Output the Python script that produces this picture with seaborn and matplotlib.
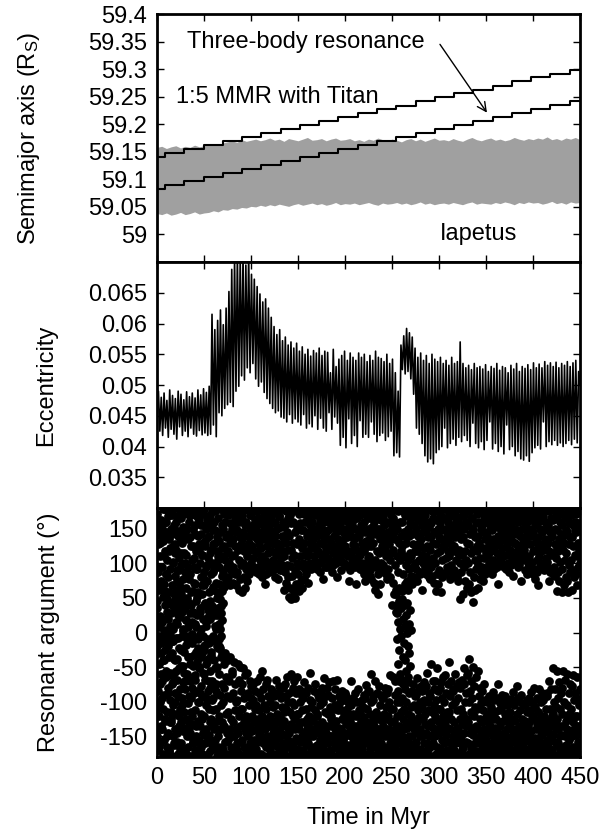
import numpy as np
import matplotlib
matplotlib.use("Agg")
import matplotlib.pyplot as plt
import seaborn as sns

# ---------------- data ----------------
# Top panel: resonance locations (staircases) in R_S
step_time = [0, 8.5, 29, 49.5, 70, 90.5, 111, 131.5, 152, 172.5, 193, 213.5, 234, 254.5,
             275, 295.5, 316, 336.5, 357, 377.5, 398, 418.5, 439, 450]
mmr_axis = [59.141, 59.148, 59.155, 59.162, 59.170, 59.177, 59.184, 59.191, 59.198, 59.206,
            59.213, 59.220, 59.227, 59.234, 59.242, 59.249, 59.256, 59.263, 59.270, 59.278,
            59.285, 59.292, 59.299, 59.299]
three_body_axis = [59.082, 59.089, 59.097, 59.104, 59.111, 59.118, 59.126, 59.133, 59.140, 59.147,
                   59.155, 59.162, 59.169, 59.176, 59.184, 59.191, 59.198, 59.205, 59.213, 59.220,
                   59.227, 59.235, 59.242, 59.242]

# Iapetus semimajor axis oscillation envelope (every 5 Myr)
iap_upper = [59.158, 59.160, 59.156, 59.159, 59.161, 59.157, 59.160, 59.158, 59.162, 59.159, 59.161,
             59.163, 59.165, 59.162, 59.166, 59.168, 59.170, 59.167, 59.172, 59.169, 59.171,
             59.173, 59.170, 59.172, 59.175, 59.171, 59.173, 59.169, 59.174, 59.172, 59.170,
             59.173, 59.176, 59.171, 59.172, 59.174, 59.170, 59.173, 59.175, 59.171, 59.172,
             59.174, 59.170, 59.172, 59.169, 59.173, 59.171, 59.175, 59.172, 59.170, 59.173,
             59.171, 59.168, 59.172, 59.174, 59.170, 59.173, 59.169, 59.172, 59.175, 59.171,
             59.172, 59.170, 59.174, 59.171, 59.169, 59.173, 59.176, 59.172, 59.170, 59.173,
             59.175, 59.171, 59.173, 59.170, 59.172, 59.176, 59.173, 59.171, 59.174, 59.172,
             59.175, 59.173, 59.177, 59.172, 59.174, 59.171, 59.175, 59.173, 59.176, 59.172]
iap_lower = [59.038, 59.036, 59.039, 59.035, 59.037, 59.040, 59.036, 59.038, 59.041, 59.037, 59.039,
             59.040, 59.043, 59.041, 59.045, 59.044, 59.047, 59.046, 59.049, 59.048, 59.051,
             59.050, 59.053, 59.051, 59.054, 59.052, 59.055, 59.053, 59.051, 59.054, 59.056,
             59.053, 59.055, 59.057, 59.054, 59.056, 59.053, 59.055, 59.058, 59.054, 59.056,
             59.055, 59.057, 59.054, 59.056, 59.058, 59.055, 59.053, 59.057, 59.055, 59.056,
             59.058, 59.055, 59.057, 59.054, 59.056, 59.059, 59.055, 59.057, 59.054, 59.056,
             59.057, 59.055, 59.058, 59.056, 59.054, 59.057, 59.059, 59.055, 59.057, 59.056,
             59.055, 59.058, 59.056, 59.059, 59.057, 59.054, 59.058, 59.056, 59.059, 59.057,
             59.058, 59.055, 59.057, 59.060, 59.056, 59.058, 59.055, 59.059, 59.057, 59.058]

# Middle panel: eccentricity, sampled every 1.5 Myr
eccentricity = [
    .0455, .0490, .0425, .0480, .0418, .0487, .0430, .0475, .0415, .0492,
    .0428, .0483, .0420, .0478, .0412, .0490, .0432, .0485, .0418, .0476,
    .0425, .0489, .0416, .0481, .0430, .0487, .0420, .0479, .0417, .0492,
    .0426, .0484, .0419, .0494, .0422, .0488, .0418, .0498, .0420, .0615,
    .0435, .0590, .0416, .0605, .0455, .0622, .0450, .0598, .0462, .0625,
    .0468, .0652, .0472, .0688, .0465, .0705, .0490, .0710, .0498, .0705,
    .0515, .0710, .0508, .0695, .0528, .0712, .0520, .0680, .0535, .0672,
    .0510, .0660, .0498, .0648, .0505, .0635, .0488, .0640, .0478, .0625,
    .0470, .0610, .0462, .0595, .0455, .0582, .0458, .0590, .0448, .0572,
    .0446, .0578, .0440, .0565, .0452, .0570, .0438, .0560, .0445, .0568,
    .0440, .0555, .0435, .0562, .0452, .0550, .0430, .0558, .0437, .0547,
    .0432, .0556, .0450, .0552, .0428, .0560, .0446, .0548, .0430, .0555,
    .0425, .0553, .0455, .0520, .0428, .0558, .0448, .0530, .0438, .0542,
    .0402, .0548, .0415, .0555, .0398, .0540, .0445, .0552, .0405, .0545,
    .0418, .0540, .0400, .0552, .0442, .0545, .0415, .0550, .0420, .0538,
    .0415, .0548, .0440, .0540, .0420, .0555, .0408, .0545, .0418, .0543,
    .0422, .0538, .0410, .0550, .0416, .0535, .0425, .0542, .0385, .0520,
    .0390, .0490, .0383, .0565, .0525, .0580, .0518, .0592, .0522, .0585,
    .0510, .0578, .0485, .0560, .0430, .0545, .0420, .0552, .0405, .0540,
    .0385, .0548, .0375, .0535, .0380, .0550, .0372, .0542, .0390, .0538,
    .0395, .0545, .0400, .0535, .0430, .0540, .0398, .0532, .0405, .0545,
    .0412, .0535, .0402, .0538, .0415, .0570, .0408, .0535, .0418, .0528,
    .0410, .0532, .0400, .0525, .0438, .0535, .0405, .0528, .0398, .0530,
    .0408, .0526, .0395, .0533, .0410, .0522, .0440, .0530, .0396, .0527,
    .0405, .0535, .0392, .0524, .0400, .0530, .0388, .0528, .0435, .0520,
    .0395, .0532, .0400, .0526, .0385, .0535, .0392, .0522, .0380, .0530,
    .0378, .0527, .0385, .0533, .0376, .0525, .0390, .0536, .0398, .0528,
    .0402, .0534, .0396, .0528, .0440, .0538, .0400, .0532, .0408, .0536,
    .0403, .0530, .0410, .0537, .0402, .0528, .0406, .0535, .0400, .0532,
    .0405, .0538, .0410, .0530, .0403, .0536, .0412, .0540, .0406, .0522,
    .0500]

# Bottom panel: resonant argument (deg), upper branch, 12 samples per 5 Myr
arg_upper = [
    172, 35, 128, 88, 8, 150, 61, 110, 24, 163, 75, 140,
    95, 15, 178, 52, 132, 70, 158, 3, 118, 40, 145, 85,
    160, 48, 105, 20, 175, 80, 135, 58, 10, 122, 92, 150,
    28, 142, 68, 170, 100, 5, 125, 45, 155, 82, 115, 33,
    120, 62, 168, 12, 90, 147, 38, 178, 72, 108, 22, 137,
    55, 165, 98, 30, 130, 2, 152, 78, 115, 43, 176, 88,
    145, 18, 112, 65, 175, 50, 95, 135, 8, 160, 77, 28,
    85, 138, 40, 170, 105, 15, 60, 150, 125, 30, 178, 95,
    12, 155, 70, 118, 45, 168, 92, 25, 140, 58, 128, 176,
    162, 100, 35, 143, 80, 5, 172, 55, 112, 130, 20, 88,
    68, 178, 125, 42, 150, 95, 15, 165, 75, 108, 32, 138,
    140, 58, 170, 20, 115, 85, 155, 38, 100, 175, 66, 128,
    35, 160, 92, 130, 10, 148, 72, 178, 50, 118, 25, 105,
    165, 70, 132, 95, 178, 58, 145, 110, 38, 155, 82, 122,
    150, 88, 172, 66, 125, 105, 160, 75, 138, 178, 95, 115,
    118, 170, 80, 142, 100, 158, 68, 130, 176, 90, 150, 110,
    175, 95, 135, 72, 155, 112, 165, 85, 125, 145, 68, 178,
    88, 148, 120, 170, 62, 105, 160, 78, 138, 178, 98, 128,
    135, 58, 168, 100, 145, 80, 177, 118, 65, 155, 92, 125,
    160, 110, 75, 140, 178, 95, 130, 85, 170, 120, 150, 100,
    98, 170, 125, 95, 155, 140, 108, 178, 90, 162, 118, 145,
    150, 88, 175, 115, 135, 95, 165, 128, 84, 158, 105, 142,
    122, 165, 92, 145, 80, 178, 110, 155, 135, 100, 170, 70,
    178, 103, 140, 85, 160, 125, 95, 150, 115, 170, 88, 132,
    95, 148, 168, 118, 100, 138, 176, 105, 158, 90, 128, 145,
    140, 80, 160, 112, 175, 95, 130, 150, 78, 120, 168, 100,
    168, 125, 90, 152, 108, 178, 90, 140, 98, 160, 118, 132,
    110, 62, 155, 88, 175, 130, 72, 145, 98, 165, 120, 80,
    52, 140, 96, 170, 65, 120, 48, 158, 82, 108, 176, 130,
    160, 58, 112, 50, 145, 90, 178, 70, 128, 100, 152, 62,
    85, 172, 60, 135, 110, 158, 75, 148, 96, 122, 178, 65,
    148, 100, 172, 78, 130, 160, 92, 118, 175, 85, 140, 110,
    115, 168, 72, 145, 178, 100, 130, 155, 92, 172, 122, 138,
    160, 95, 135, 176, 110, 148, 98, 125, 170, 102, 150, 118,
    92, 140, 170, 118, 155, 100, 178, 130, 88, 162, 112, 145,
    150, 105, 175, 128, 78, 160, 138, 112, 168, 95, 145, 122,
    118, 165, 95, 148, 178, 108, 135, 102, 158, 125, 170, 100,
    172, 130, 88, 152, 115, 165, 98, 140, 178, 105, 125, 158,
    100, 145, 175, 120, 80, 160, 135, 110, 168, 150, 108, 128,
    155, 112, 90, 170, 132, 102, 178, 145, 120, 100, 162, 138,
    125, 170, 98, 150, 96, 138, 176, 110, 160, 75, 145, 118,
    168, 90, 140, 115, 178, 102, 155, 128, 98, 162, 135, 108,
    95, 150, 125, 172, 70, 138, 108, 165, 118, 178, 100, 145,
    140, 92, 170, 112, 155, 92, 130, 176, 100, 148, 122, 85,
    160, 118, 75, 145, 98, 178, 132, 88, 168, 108, 150, 125,
    110, 165, 82, 138, 90, 175, 125, 78, 152, 100, 145, 170,
    130, 72, 160, 105, 178, 62, 142, 95, 168, 118, 150, 85,
    55, 150, 115, 175, 88, 135, 70, 162, 100, 145, 125, 178,
    168, 98, 140, 90, 155, 120, 178, 85, 132, 110, 160, 78,
    92, 145, 175, 80, 128, 158, 105, 80, 170, 138, 115, 150,
    40, 120, 165, 72, 145, 55, 178, 98, 135, 62, 158, 110,
    28, 150, 88, 175, 45, 130, 65, 160, 105, 35, 140, 118,
    160, 60, 125, 175, 85, 145, 40, 110, 170, 70, 138, 98,
    130, 75, 168, 105, 150, 62, 178, 92, 140, 115, 158, 82,
    110, 165, 70, 142, 95, 176, 128, 80, 155, 118, 168, 100,
    150, 92, 172, 118, 75, 140, 162, 105, 130, 178, 85, 125,
    88, 135, 168, 112, 155, 62, 145, 100, 175, 122, 160, 95,
    170, 110, 85, 148, 125, 178, 90, 138, 102, 160, 80, 152,
    120, 78, 158, 95, 140, 175, 82, 130, 108, 165, 72, 145,
    145, 100, 175, 60, 128, 85, 162, 115, 150, 70, 138, 178,
    90, 158, 118, 172, 58, 135, 105, 148, 80, 165, 125, 178,
    165, 125, 85, 150, 108, 178, 88, 140, 95, 160, 118, 132,
    110, 172, 140, 78, 155, 98, 128, 168, 88, 145, 118, 178,
    148, 90, 125, 170, 82, 138, 160, 105, 178, 80, 152, 115,
    75, 162, 120, 145, 48, 100, 178, 135, 88, 155, 112, 168,
    138, 55, 170, 95, 150, 118, 75, 160, 105, 178, 130, 65,
    100, 155, 65, 128, 175, 70, 142, 88, 165, 115, 58, 150,
    165, 44, 120, 148, 80, 178, 105, 62, 138, 92, 158, 125,
    118, 172, 65, 140, 98, 160, 130, 78, 176, 108, 150, 88,
    155, 95, 178, 122, 75, 145, 108, 168, 85, 135, 160, 115,
    90, 140, 170, 112, 158, 95, 128, 178, 100, 150, 120, 165,
    172, 118, 85, 148, 105, 165, 135, 92, 178, 125, 155, 100,
    128, 160, 95, 176, 115, 140, 70, 152, 105, 170, 132, 112,
    100, 148, 178, 122, 100, 162, 135, 110, 170, 95, 155, 140,
    165, 112, 140, 92, 175, 128, 150, 100, 160, 120, 88, 145,
    120, 172, 98, 155, 135, 108, 178, 82, 145, 162, 115, 130,
    150, 100, 130, 168, 105, 178, 118, 142, 95, 160, 125, 110,
    98, 162, 140, 115, 176, 74, 128, 150, 105, 170, 135, 120,
    175, 125, 90, 155, 110, 140, 168, 84, 130, 160, 100, 148,
    110, 150, 95, 170, 128, 95, 178, 140, 102, 162, 118, 85,
    145, 92, 165, 120, 78, 155, 135, 176, 105, 130, 88, 160,
    68, 138, 172, 110, 150, 96, 128, 178, 118, 162, 100, 145,
    168, 120, 90, 148, 92, 135, 160, 108, 178, 125, 95, 152,
    102, 155, 130, 75, 175, 118, 145, 88, 165, 138, 112, 92,
    140, 84, 162, 115, 95, 178, 128, 82, 150, 108, 170, 122,
    60, 148, 118, 170, 88, 135, 75, 160, 102, 178, 125, 142,
    155, 92, 58, 140, 120, 172, 68, 130, 105, 165, 80, 148,
    115, 165, 75, 145, 58, 178, 128, 98, 158, 88, 138, 170,
    170, 105, 138, 62, 155, 90, 125, 178, 80, 148, 112, 160,
    85, 145, 172, 110, 68, 158, 130, 95, 176, 120, 150, 100]

# lower branch, 12 samples per 5 Myr
arg_lower = [
    -20, -150, -85, -170, -45, -120, -5, -100, -160, -60, -135, -30,
    -140, -70, -10, -175, -110, -40, -155, -90, -25, -128, -65, -178,
    -55, -165, -115, -15, -145, -80, -35, -172, -98, -130, -3, -62,
    -125, -30, -178, -75, -150, -12, -105, -58, -162, -88, -40, -140,
    -8, -118, -68, -158, -38, -176, -92, -22, -135, -52, -110, -168,
    -160, -48, -130, -5, -95, -170, -72, -142, -28, -115, -58, -178,
    -82, -175, -18, -125, -60, -150, -102, -35, -165, -5, -138, -70,
    -35, -145, -95, -178, -15, -120, -68, -160, -48, -132, -88, -8,
    -170, -62, -112, -28, -150, -85, -178, -42, -128, -10, -100, -155,
    -50, -135, -2, -165, -78, -118, -30, -175, -92, -145, -58, -20,
    -120, -25, -160, -68, -140, -45, -105, -178, -10, -85, -152, -38,
    -15, -148, -80, -172, -55, -125, -32, -98, -162, -70, -135, -5,
    -95, -168, -40, -130, -12, -155, -75, -110, -178, -50, -140, -22,
    -150, -60, -120, -20, -175, -90, -140, -35, -105, -165, -75, -130,
    -100, -170, -45, -135, -80, -158, -30, -118, -178, -65, -145, -92,
    -155, -40, -115, -175, -70, -140, -95, -35, -165, -125, -55, -150,
    -60, -130, -178, -88, -150, -42, -112, -168, -75, -140, -100, -160,
    -170, -98, -45, -145, -120, -175, -68, -135, -50, -158, -85, -110,
    -110, -155, -75, -178, -52, -130, -95, -165, -140, -62, -120, -172,
    -145, -58, -125, -170, -88, -150, -105, -178, -70, -135, -160, -95,
    -78, -165, -120, -142, -75, -178, -98, -155, -130, -85, -170, -110,
    -168, -105, -140, -70, -158, -125, -178, -88, -148, -112, -65, -135,
    -95, -150, -175, -120, -55, -140, -160, -82, -130, -178, -105, -155,
    -140, -75, -165, -110, -150, -68, -178, -125, -92, -160, -135, -100,
    -170, -120, -82, -155, -135, -178, -85, -145, -108, -162, -92, -128,
    -105, -160, -140, -68, -175, -118, -150, -88, -130, -165, -78, -145,
    -152, -90, -172, -125, -95, -145, -108, -178, -135, -80, -160, -115,
    -128, -170, -75, -148, -110, -160, -92, -178, -65, -138, -155, -100,
    -88, -145, -165, -115, -178, -60, -132, -158, -100, -170, -120, -80,
    -160, -105, -70, -140, -175, -125, -88, -152, -64, -168, -118, -135,
    -118, -178, -140, -82, -158, -100, -84, -170, -130, -92, -150, -112,
    -172, -95, -130, -155, -72, -145, -178, -110, -88, -162, -125, -140,
    -135, -160, -80, -120, -175, -98, -150, -58, -140, -168, -108, -125,
    -100, -150, -178, -128, -85, -165, -112, -145, -74, -138, -172, -118,
    -162, -120, -90, -175, -140, -95, -132, -155, -105, -178, -85, -148,
    -80, -158, -130, -168, -100, -145, -66, -178, -115, -150, -92, -135,
    -145, -80, -175, -118, -90, -160, -135, -72, -170, -108, -150, -125,
    -120, -172, -95, -150, -135, -70, -178, -110, -160, -82, -140, -105,
    -165, -128, -68, -145, -178, -112, -155, -92, -138, -170, -100, -150,
    -110, -160, -140, -84, -175, -125, -98, -155, -168, -118, -145, -88,
    -150, -92, -178, -132, -110, -162, -100, -145, -120, -172, -102, -138,
    -128, -170, -105, -150, -70, -140, -178, -118, -158, -95, -135, -165,
    -88, -145, -165, -120, -175, -100, -155, -135, -82, -170, -112, -148,
    -160, -115, -140, -100, -178, -128, -98, -152, -168, -108, -138, -90,
    -122, -175, -95, -148, -76, -160, -130, -110, -178, -85, -145, -138,
    -150, -85, -168, -118, -140, -60, -175, -100, -130, -158, -92, -125,
    -98, -160, -135, -178, -70, -148, -115, -165, -88, -140, -125, -155,
    -170, -120, -78, -150, -105, -178, -140, -90, -160, -128, -95, -145,
    -135, -95, -165, -118, -175, -80, -150, -108, -140, -170, -125, -88,
    -82, -150, -120, -172, -100, -140, -160, -62, -130, -178, -110, -155,
    -165, -110, -65, -145, -178, -128, -90, -158, -70, -138, -170, -100,
    -120, -175, -85, -150, -70, -135, -160, -100, -178, -142, -68, -115,
    -150, -95, -170, -125, -75, -160, -110, -140, -178, -82, -132, -155,
    -100, -165, -138, -72, -175, -118, -150, -88, -160, -128, -178, -108,
    -172, -120, -85, -150, -135, -175, -74, -140, -105, -165, -128, -92,
    -90, -158, -130, -66, -178, -112, -145, -80, -168, -122, -100, -150,
    -140, -78, -170, -108, -150, -85, -125, -178, -72, -160, -98, -132,
    -118, -175, -78, -145, -58, -160, -100, -135, -168, -88, -150, -112,
    -165, -92, -130, -45, -178, -115, -148, -70, -138, -160, -82, -105,
    -70, -150, -120, -175, -98, -52, -140, -165, -85, -128, -110, -172,
    -145, -80, -168, -110, -72, -135, -178, -95, -155, -120, -65, -140,
    -100, -160, -130, -62, -175, -88, -148, -115, -170, -75, -138, -120,
    -158, -115, -42, -140, -92, -178, -125, -70, -165, -105, -150, -82,
    -85, -170, -130, -100, -160, -60, -145, -178, -112, -78, -138, -155,
    -140, -95, -175, -72, -125, -160, -80, -150, -110, -170, -68, -132,
    -118, -165, -75, -145, -52, -178, -100, -135, -88, -158, -125, -62,
    -160, -58, -130, -100, -175, -38, -145, -85, -115, -168, -70, -138,
    -95, -148, -50, -170, -120, -78, -160, -108, -178, -65, -135, -152,
    -172, -110, -140, -55, -155, -92, -178, -125, -80, -160, -102, -145,
    -130, -168, -85, -150, -112, -175, -74, -140, -160, -98, -122, -178,
    -155, -100, -178, -130, -96, -165, -118, -145, -92, -172, -135, -110,
    -108, -160, -140, -175, -86, -150, -125, -168, -98, -138, -178, -115,
    -170, -125, -95, -158, -140, -178, -75, -148, -112, -165, -130, -102,
    -135, -175, -110, -150, -90, -165, -128, -178, -100, -145, -158, -118,
    -92, -150, -170, -122, -178, -105, -140, -160, -100, -132, -115, -168,
    -160, -115, -138, -178, -96, -150, -125, -86, -170, -142, -105, -155,
    -128, -172, -100, -145, -160, -78, -178, -118, -138, -152, -95, -165,
    -175, -135, -112, -160, -90, -148, -125, -170, -102, -178, -140, -155,
    -105, -158, -178, -128, -145, -102, -168, -115, -150, -98, -135, -172,
    -150, -95, -130, -175, -112, -160, -86, -142, -178, -120, -165, -102,
    -168, -125, -80, -152, -178, -108, -140, -160, -95, -132, -175, -115,
    -115, -170, -140, -82, -158, -125, -178, -100, -148, -165, -88, -135,
    -145, -98, -175, -120, -160, -92, -138, -110, -168, -130, -88, -155,
    -92, -160, -128, -178, -70, -145, -110, -168, -135, -82, -150, -120,
    -170, -118, -52, -148, -100, -178, -130, -82, -158, -140, -108, -162,
    -125, -56, -160, -95, -140, -175, -72, -150, -110, -168, -88, -135,
    -80, -148, -118, -178, -55, -135, -165, -100, -150, -68, -128, -172,
    -162, -105, -140, -60, -175, -125, -88, -155, -118, -170, -75, -145,
    -110, -172, -78, -150, -130, -62, -165, -98, -140, -178, -120, -88,
    -148, -95, -168, -120, -65, -158, -135, -178, -105, -142, -82, -160]

# extra samples during the early circulating phase (0-70 Myr)
arg_early = [
    45, -110, 160, -30, 95, -165, 12, -75, 130, -140, 70, -15,
    -95, 150, -40, 20, -178, 110, -60, 178, -125, 60, -5, 138,
    85, -150, 30, -88, 168, -20, 118, -170, 2, -58, 145, -115,
    -130, 40, -12, 175, -72, 102, -160, 55, -38, 128, -100, 15,
    160, -55, 75, -145, 25, -8, 140, -120, 90, -178, 48, -82,
    -25, 115, -168, 65, -105, 5, 172, -48, 135, -138, 35, -70,
    100, -175, 18, -62, 150, -10, 80, -128, 42, -92, 170, -150,
    -45, 125, -115, 58, -2, 178, -80, 28, -158, 108, -32, 72,
    142, -68, 8, -135, 92, -170, 52, -22, 165, -100, 120, -52,
    -160, 30, -88, 155, -35, 68, -125, 112, -5, 175, -60, 40,
    78, -18, 132, -148, 10, -95, 158, -42, 98, -175, 22, -110,
    -70, 165, -130, 45, -28, 120, -158, 62, -8, 88, -112, 148,
    25, -140, 95, -52, 175, 5, -85, 138, -20, 58, -165, 110,
    35, -10, 12, 48, -22, 5, 28, -5, 60, 18, -30, 42]

# excursion through the resonance gap near 255-270 Myr
arg_streak = [55, 30, -10, 40, 15, -45, 62, -25, 5, -60, 35, -5, 48, -35, 20,
              -15, -70, 10, -40, 25, -55, 0, 42, -20, -65, 12, -30, 32, -48, 3]

x_ticks = [0, 50, 100, 150, 200, 250, 300, 350, 400, 450]
a_ticks = [59, 59.05, 59.1, 59.15, 59.2, 59.25, 59.3, 59.35, 59.4]
e_ticks = [0.035, 0.04, 0.045, 0.05, 0.055, 0.06, 0.065]
r_ticks = [-150, -100, -50, 0, 50, 100, 150]

# ---------------- style ----------------
sns.set_theme(style="ticks")
plt.rcParams['font.family'] = ['Liberation Sans', 'DejaVu Sans']
plt.rcParams['mathtext.fontset'] = 'custom'
plt.rcParams['mathtext.rm'] = 'Liberation Sans'
plt.rcParams['mathtext.it'] = 'Liberation Sans:italic'
for key in ('text.color', 'axes.labelcolor', 'xtick.color', 'ytick.color',
            'xtick.labelcolor', 'ytick.labelcolor', 'axes.edgecolor'):
    plt.rcParams[key] = 'black'
FS = 17

fig = plt.figure(figsize=(6.16, 8.35), dpi=100)
L, W = 0.2549, 0.6867
ax1 = fig.add_axes([L, 0.6862, W, 0.2970])
ax2 = fig.add_axes([L, 0.3916, W, 0.2946])
ax3 = fig.add_axes([L, 0.0934, W, 0.2982])

# top panel
t_iap = np.linspace(0, 450, len(iap_upper))
ax1.fill_between(t_iap, iap_lower, iap_upper, color='#a0a0a0', linewidth=0, zorder=1)
sns.lineplot(x=step_time, y=mmr_axis, drawstyle='steps-post', color='black', lw=1.5,
             estimator=None, sort=False, ax=ax1, zorder=3)
sns.lineplot(x=step_time, y=three_body_axis, drawstyle='steps-post', color='black', lw=1.5,
             estimator=None, sort=False, ax=ax1, zorder=3)
ax1.text(32, 59.349, 'Three-body resonance', fontsize=FS, ha='left', va='center', color='black')
ax1.text(20, 59.249, '1:5 MMR with Titan', fontsize=FS, ha='left', va='center', color='black')
ax1.text(301, 59.0, 'Iapetus', fontsize=FS, ha='left', va='center', color='black')
ax1.annotate('', xy=(351, 59.221), xytext=(301, 59.345),
             arrowprops=dict(arrowstyle='->', lw=1.0, color='black',
                             shrinkA=0, shrinkB=0, mutation_scale=16))
ax1.set_ylim(58.95, 59.4)
ax1.set_yticks(a_ticks)
ax1.set_yticklabels(['%g' % v for v in a_ticks])
ax1.set_ylabel('Semimajor axis (R$_\\mathrm{S}$)', fontsize=FS)

# middle panel
t_ecc = np.linspace(0, 450, len(eccentricity))
sns.lineplot(x=t_ecc, y=eccentricity, color='black', lw=1.2, estimator=None, sort=False, ax=ax2)
ax2.set_ylim(0.03, 0.07)
ax2.set_yticks(e_ticks)
ax2.set_yticklabels(['%g' % v for v in e_ticks])
ax2.set_ylabel('Eccentricity', fontsize=FS)

# bottom panel
mk = dict(color='black', s=40, linewidth=0, ax=ax3)
sns.scatterplot(x=np.linspace(0, 450, len(arg_upper)), y=arg_upper, **mk)
sns.scatterplot(x=np.linspace(0, 450, len(arg_lower)), y=arg_lower, **mk)
sns.scatterplot(x=np.linspace(0, 70, len(arg_early)), y=arg_early, **mk)
sns.scatterplot(x=np.linspace(254, 270, len(arg_streak)), y=arg_streak, **mk)
ax3.set_ylim(-180, 180)
ax3.set_yticks(r_ticks)
ax3.set_yticklabels([str(v) for v in r_ticks])
ax3.set_ylabel('Resonant argument (°)', fontsize=FS)
ax3.set_xlabel('Time in Myr', fontsize=FS)

for ax in (ax1, ax2, ax3):
    ax.set_xlim(0, 450)
    ax.set_xticks(x_ticks)
    ax.tick_params(direction='in', length=5, width=1, top=True, right=True,
                   labelsize=FS, pad=7, colors='black')
    for sp in ax.spines.values():
        sp.set_linewidth(2)
        sp.set_color('black')
        sp.set_visible(True)
        sp.set_zorder(5)
    ax.set_facecolor('white')
for ax in (ax1, ax2):
    ax.set_xticklabels([])
    ax.set_xlabel('')

ax1.yaxis.set_label_coords(-0.272, 0.5)
ax2.yaxis.set_label_coords(-0.235, 0.5)
ax3.yaxis.set_label_coords(-0.23, 0.5)
ax3.xaxis.set_label_coords(0.5, -0.2)

fig.savefig('out.png', dpi=100, facecolor='white')
